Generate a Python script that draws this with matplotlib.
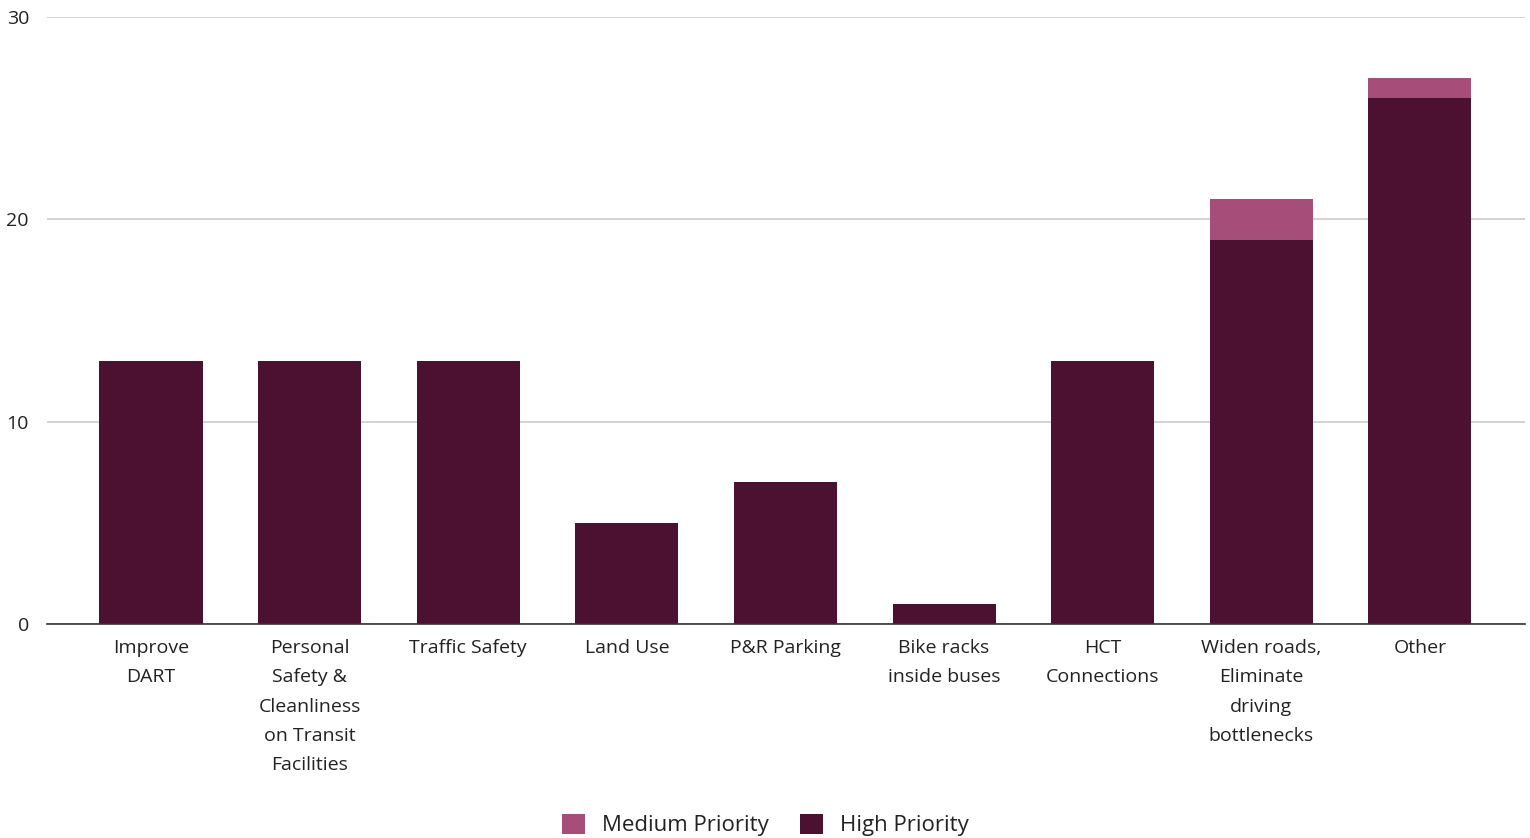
import matplotlib
matplotlib.use("Agg")
import matplotlib.pyplot as plt
import numpy as np

categories = ["Improve\nDART", "Personal\nSafety &\nCleanliness\non Transit\nFacilities",
              "Traffic Safety", "Land Use", "P&R Parking", "Bike racks\ninside buses",
              "HCT\nConnections", "Widen roads,\nEliminate\ndriving\nbottlenecks", "Other"]
high = [13, 13, 13, 5, 7, 1, 13, 19, 26]
medium = [0, 0, 0, 0, 0, 0, 0, 2, 1]
yticks = [0, 10, 20, 30]

plt.rcParams['font.family'] = ['Open Sans', 'DejaVu Sans']

fig = plt.figure(figsize=(15.3, 8.38), dpi=100)
ax = fig.add_axes([47/1530, 1-624/838, (1525-47)/1530, (624-17)/838])

x = np.arange(len(categories))
w = 0.65
c_high = "#4c1130"
c_med = "#a64d79"
ax.bar(x, high, width=w, color=c_high, label="High Priority", zorder=3)
ax.bar(x, medium, width=w, bottom=high, color=c_med, label="Medium Priority", zorder=3)

ax.set_xlim(-0.656, 8.663)
ax.set_ylim(0, 30)
ax.set_yticks(yticks)
ax.set_yticklabels([str(t) for t in yticks], fontsize=14, color="#222222")
ax.yaxis.grid(True, color="#cccccc", linewidth=1.2, zorder=0)
ax.tick_params(axis='y', length=0, pad=13)
ax.tick_params(axis='x', length=0, pad=11)
ax.set_xticks(x)
ax.set_xticklabels(categories, fontsize=14, color="#222222", linespacing=1.8)
for s in ["top", "right", "left"]:
    ax.spines[s].set_visible(False)
ax.spines["bottom"].set_color("#333333")
ax.spines["bottom"].set_linewidth(1.2)
ax.spines["bottom"].set_zorder(4)

handles, labels = ax.get_legend_handles_labels()
order = [1, 0]
leg = fig.legend([handles[i] for i in order], [labels[i] for i in order],
                 loc="center", bbox_to_anchor=(0.5, 1-825/838), ncol=2, frameon=False,
                 fontsize=16, handlelength=1.05, handleheight=1.05, columnspacing=1.4,
                 handletextpad=0.75)
for t in leg.get_texts():
    t.set_color("#222222")

fig.savefig("out.png", dpi=100)
